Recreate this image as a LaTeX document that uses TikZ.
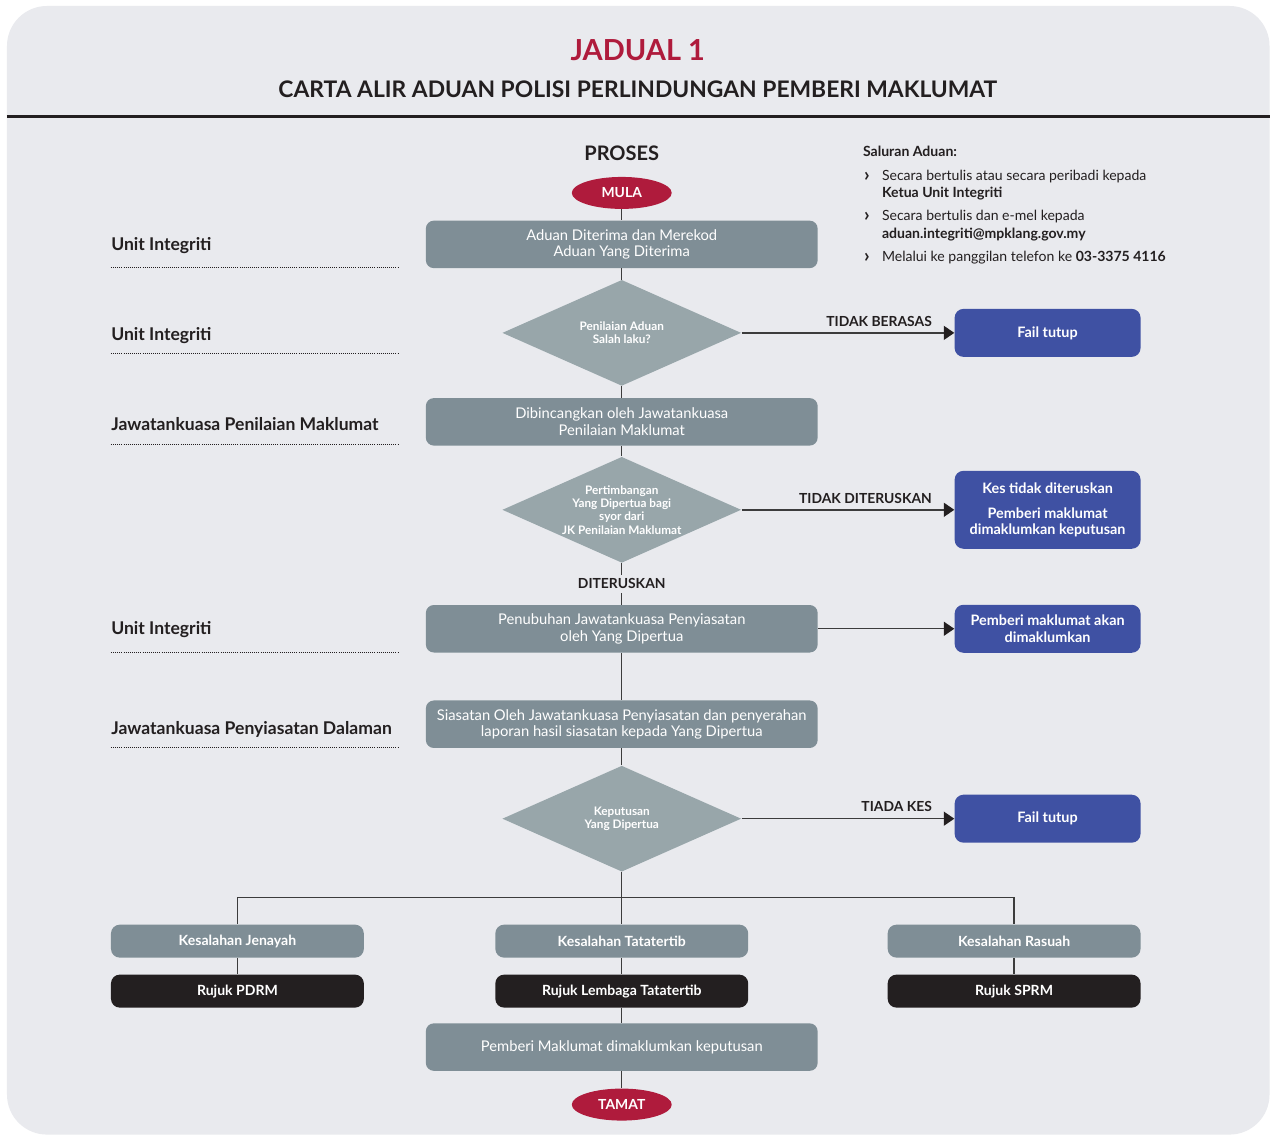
\documentclass[tikz,border=0pt]{standalone}
\usepackage{fontspec}
\setmainfont{Lato}
\usetikzlibrary{shapes.geometric,arrows.meta,positioning,calc}
\definecolor{bgpanel}{HTML}{E9EAEE}
\definecolor{jred}{HTML}{AF1B3C}
\definecolor{boxgray}{HTML}{7F8E96}
\definecolor{diagray}{HTML}{98A6AA}
\definecolor{sideblue}{HTML}{3F51A3}
\definecolor{inkdark}{HTML}{231F20}
\definecolor{flowline}{HTML}{3C3C3C}

\begin{document}
\begin{tikzpicture}[x=0.02cm, y=-0.02cm,
        procbox/.style={rectangle, rounded corners=4.5pt, fill=boxgray,
                        text=white, minimum width=7.84cm, minimum height=0.95cm,
                        align=center, inner sep=1pt,
                        font=\fontsize{8.4}{9.4}\selectfont},
        decide/.style={diamond, fill=diagray, text=white, aspect=2.25,
                       minimum width=4.78cm, minimum height=2.12cm,
                       inner sep=0pt, align=center,
                       font=\bfseries\fontsize{6.7}{7.6}\selectfont},
        sidebox/.style={rectangle, rounded corners=5pt, fill=sideblue,
                        text=white, minimum width=3.72cm, minimum height=0.96cm,
                        align=center, inner sep=1pt,
                        font=\bfseries\fontsize{8.2}{9.2}\selectfont},
        faultbox/.style={rectangle, rounded corners=5pt, fill=boxgray,
                         text=white, minimum width=5.06cm, minimum height=0.66cm,
                         font=\bfseries\fontsize{8}{9}\selectfont},
        referbox/.style={faultbox, fill=inkdark},
        endpt/.style={ellipse, fill=jred, text=white, inner sep=0pt,
                      minimum width=2.0cm, minimum height=0.64cm,
                      font=\bfseries\fontsize{7.9}{9}\selectfont},
        rolelbl/.style={anchor=west, inner sep=0pt, text=inkdark,
                        font=\bfseries\fontsize{10}{11}\selectfont},
        dotline/.style={inkdark, line width=0.5pt,
                        dash pattern=on 0.5pt off 0.7pt},
        flow/.style={flowline, line width=0.8pt},
        flowarrow/.style={flow, -{Triangle[length=6pt,width=8pt,fill=inkdark,color=inkdark]}},
        arrowlbl/.style={pos=1, anchor=south east, xshift=-0.4cm, yshift=2.4pt,
                         inner sep=1pt, text=inkdark,
                         font=\bfseries\fontsize{7.9}{9}\selectfont},
        infotxt/.style={anchor=base west, inner sep=0pt, text=inkdark,
                        font=\fontsize{8}{9}\selectfont},
        chevron/.style={infotxt, font=\bfseries\fontsize{11}{11}\selectfont}
    ]

    %% ── Panel, title and rule ───────────────────────────────────────────────
    \fill[white] (0,0) rectangle (1271,1136);
    \fill[bgpanel, rounded corners=0.8cm] (7,6) rectangle (1270,1135);
    \node[font=\bfseries\fontsize{16.5}{18}\selectfont, text=jred]
        (jadual) at (638,50) {JADUAL 1};
    \node[font=\bfseries\fontsize{13}{15}\selectfont, text=inkdark]
        (carta) at (638,89) {CARTA ALIR ADUAN POLISI PERLINDUNGAN PEMBERI MAKLUMAT};
    \draw[inkdark, line width=1.7pt] (7,117) -- (1270,117);

    %% ── Saluran Aduan (top right) ───────────────────────────────────────────
    \node[font=\bfseries\fontsize{11.4}{13}\selectfont, text=inkdark]
        (proses) at (622,153) {PROSES};
    \node[infotxt, font=\bfseries\fontsize{8}{9}\selectfont] (saluran) at (863,157) {Saluran Aduan:};
    \node[chevron] (b1) at (864,182) {›};
    \node[infotxt] (s1a) at (882,181) {Secara bertulis atau secara peribadi kepada};
    \node[infotxt, font=\bfseries\fontsize{8}{9}\selectfont] (s1b) at (882,198) {Ketua Unit Integriti};
    \node[chevron] (b2) at (864,222) {›};
    \node[infotxt] (s2a) at (882,221) {Secara bertulis dan e-mel kepada};
    \node[infotxt, font=\bfseries\fontsize{8}{9}\selectfont] (s2b) at (882,239) {aduan.integriti@mpklang.gov.my};
    \node[chevron] (b3) at (864,263) {›};
    \node[infotxt] (s3a) at (882,262) {Melalui ke panggilan telefon ke \textbf{03-3375 4116}};

    %% ── Role labels on the left ─────────────────────────────────────────────
    \foreach \yy/\ly/\txt [count=\i] in {246/268/Unit Integriti,
                                        336/354/Unit Integriti,
                                        424/445/Jawatankuasa Penilaian Maklumat,
                                        630/653/Unit Integriti,
                                        730/748/Jawatankuasa Penyiasatan Dalaman} {
        \node[rolelbl] (role\i) at (111,\yy) {\txt};
        \draw[dotline] (111,\ly) -- (398,\ly);
    }

    %% ── Main process column ─────────────────────────────────────────────────
    \node[endpt]    (mula)    at (622,193)    {MULA};
    \node[procbox]  (aduan)   at (622,244.5)  {Aduan Diterima dan Merekod\\Aduan Yang Diterima};
    \node[decide]   (nilai)   at (622,333)    {Penilaian Aduan\\Salah laku?};
    \node[procbox]  (bincang) at (622,422)    {Dibincangkan oleh Jawatankuasa\\Penilaian Maklumat};
    \node[decide]   (timbang) at (622,510)    {Pertimbangan\\Yang Dipertua bagi\\syor dari\\JK Penilaian Maklumat};
    \node[procbox]  (tubuh)   at (622,629)    {Penubuhan Jawatankuasa Penyiasatan\\oleh Yang Dipertua};
    \node[procbox]  (siasat)  at (622,724.5)  {Siasatan Oleh Jawatankuasa Penyiasatan dan penyerahan\\laporan hasil siasatan kepada Yang Dipertua};
    \node[decide]   (putus)   at (622,819)    {Keputusan\\Yang Dipertua};
    \coordinate     (split)   at (622,898);

    \node[faultbox] (jenayah) at (237.5,941.5) {Kesalahan Jenayah};
    \node[faultbox] (tatib)   at (622,941.5)   {Kesalahan Tatatertib};
    \node[faultbox] (rasuah)  at (1014.5,941.5){Kesalahan Rasuah};
    \node[referbox] (pdrm)    at (237.5,991.5) {Rujuk PDRM};
    \node[referbox] (lembaga) at (622,991.5)   {Rujuk Lembaga Tatatertib};
    \node[referbox] (sprm)    at (1014.5,991.5){Rujuk SPRM};
    \node[procbox]  (maklum)  at (622,1047.5)  {Pemberi Maklumat dimaklumkan keputusan};
    \node[endpt]    (tamat)   at (622,1105)    {TAMAT};

    %% ── Outcome boxes on the right ──────────────────────────────────────────
    \node[sidebox] (tutupA) at (1048,333) {Fail tutup};
    \node[sidebox, minimum height=1.56cm] (kes) at (1048,510)
        {Kes tidak diteruskan\\[5pt]Pemberi maklumat\\dimaklumkan keputusan};
    \node[sidebox] (akan)   at (1048,629) {Pemberi maklumat akan\\dimaklumkan};
    \node[sidebox] (tutupB) at (1048,819) {Fail tutup};

    %% ── Connectors ──────────────────────────────────────────────────────────
    \draw[flow] (mula) -- (aduan);
    \draw[flow] (aduan) -- (nilai);
    \draw[flow] (nilai) -- (bincang);
    \draw[flow] (bincang) -- (timbang);
    \draw[flow] (timbang) --
        node[fill=bgpanel, inner sep=2pt, text=inkdark,
             font=\bfseries\fontsize{7.9}{9}\selectfont] {DITERUSKAN}
        (tubuh);
    \draw[flow] (tubuh) -- (siasat);
    \draw[flow] (siasat) -- (putus);
    \draw[flow] (putus) -- (split);
    \draw[flow] (split) -| (jenayah.north);
    \draw[flow] (split) -| (rasuah.north);
    \draw[flow] (split) -- (tatib);
    \draw[flow] (jenayah) -- (pdrm);
    \draw[flow] (tatib) -- (lembaga);
    \draw[flow] (rasuah) -- (sprm);
    \draw[flow] (lembaga) -- (maklum);
    \draw[flow] (maklum) -- (tamat);

    %% side exits
    \draw[flowarrow] (nilai.east) -- node[arrowlbl] {TIDAK BERASAS} (tutupA.west);
    \draw[flowarrow] (timbang.east) -- node[arrowlbl] {TIDAK DITERUSKAN} (kes.west);
    \draw[flowarrow] (tubuh.east) -- (akan.west);
    \draw[flowarrow] (putus.east) -- node[arrowlbl] {TIADA KES} (tutupB.west);

\end{tikzpicture}
\end{document}
